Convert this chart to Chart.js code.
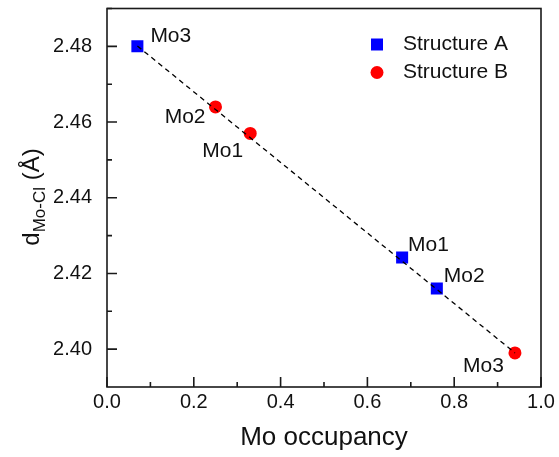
<!DOCTYPE html>
<html>
<head>
<meta charset="utf-8">
<script src="https://cdn.jsdelivr.net/npm/chart.js@4"></script>
<style>
  html, body { margin: 0; padding: 0; background: #fff; }
  #wrap { width: 559px; height: 457px; }
</style>
</head>
<body>
<div id="wrap"><canvas id="myChart" width="559" height="457"></canvas></div>
<script>
// data
const occA = [0.07, 0.68, 0.76];
const distA = [2.480, 2.4242, 2.416];
const namesA = ['Mo3', 'Mo1', 'Mo2'];

const occB = [0.25, 0.33, 0.94];
const distB = [2.464, 2.457, 2.399];
const namesB = ['Mo2', 'Mo1', 'Mo3'];

const fitX = [0.07, 0.94];
const fitY = [2.4801, 2.3990];

const xTicks = [0.0, 0.2, 0.4, 0.6, 0.8, 1.0];
const yTicks = [2.40, 2.42, 2.44, 2.46, 2.48];

const FONT = 'Arial, "Liberation Sans", sans-serif';

// where each point name sits relative to its marker: [align, dx, dy]
const labelPlace = {
    0: [['left', 13, -10], ['left', 6, -12], ['left', 7, -12]],
    1: [['right', -10, 10], ['right', -7, 18], ['right', -11, 13]]
};

const decorations = {
    id: 'decorations',
    afterDraw(chart) {
        const ctx = chart.ctx;
        const a = chart.chartArea;
        const xs = chart.scales.x, ys = chart.scales.y;
        ctx.save();

        // frame
        ctx.strokeStyle = '#1a1a1a';
        ctx.lineWidth = 1.6;
        ctx.strokeRect(a.left, a.top, a.right - a.left, a.bottom - a.top);

        // inward ticks, major and minor
        ctx.beginPath();
        for (let i = 0; i < xTicks.length; i++) {
            let px = xs.getPixelForValue(xTicks[i]);
            ctx.moveTo(px, a.bottom); ctx.lineTo(px, a.bottom - 10);
            if (i < xTicks.length - 1) {
                let mx = xs.getPixelForValue((xTicks[i] + xTicks[i + 1]) / 2);
                ctx.moveTo(mx, a.bottom); ctx.lineTo(mx, a.bottom - 5);
            }
        }
        let ySteps = [2.39].concat(yTicks);
        for (let i = 0; i < yTicks.length; i++) {
            let py = ys.getPixelForValue(yTicks[i]);
            ctx.moveTo(a.left, py); ctx.lineTo(a.left + 10, py);
        }
        for (let i = 0; i < ySteps.length; i++) {
            let my = ys.getPixelForValue(ySteps[i] + 0.01);
            if (my > a.top) { ctx.moveTo(a.left, my); ctx.lineTo(a.left + 5, my); }
        }
        ctx.stroke();

        // point names
        ctx.fillStyle = '#111';
        ctx.font = '21px ' + FONT;
        ctx.textBaseline = 'middle';
        [namesA, namesB].forEach((names, d) => {
            const meta = chart.getDatasetMeta(d);
            names.forEach((n, i) => {
                const el = meta.data[i];
                const p = labelPlace[d][i];
                ctx.textAlign = p[0];
                ctx.fillText(n, el.x + p[1], el.y + p[2]);
            });
        });

        // legend
        ctx.textAlign = 'left';
        [0, 1].forEach((d) => {
            const ds = chart.data.datasets[d];
            const cy = a.top + 36 + d * 28;
            ctx.fillStyle = ds.backgroundColor;
            ctx.beginPath();
            if (ds.pointStyle === 'rect') ctx.rect(377 - 6, cy - 6, 12, 12);
            else ctx.arc(377, cy, 6.5, 0, Math.PI * 2);
            ctx.fill();
            ctx.fillStyle = '#111';
            ctx.fillText(ds.label, 403, cy);
        });

        // y title with subscript
        ctx.translate(31, 197);
        ctx.rotate(-Math.PI / 2);
        ctx.fillStyle = '#111';
        ctx.textBaseline = 'alphabetic';
        const big = '24px ' + FONT, small = '17px ' + FONT;
        ctx.font = big; const w1 = ctx.measureText('d').width;
        ctx.font = small; const w2 = ctx.measureText('Mo-Cl').width;
        ctx.font = big; const w3 = ctx.measureText(' (Å)').width;
        let x0 = -(w1 + w2 + w3) / 2;
        ctx.font = big; ctx.fillText('d', x0, 8);
        ctx.font = small; ctx.fillText('Mo-Cl', x0 + w1, 14);
        ctx.font = big; ctx.fillText(' (Å)', x0 + w1 + w2, 8);

        ctx.restore();
    }
};

const ctx = document.getElementById('myChart').getContext('2d');
const myChart = new Chart(ctx, {
    type: 'scatter',
    data: {
        datasets: [{
            label: 'Structure A',
            data: occA.map((x, i) => ({ x: x, y: distA[i] })),
            pointStyle: 'rect',
            pointRadius: 8.5,
            backgroundColor: '#0000ff',
            borderColor: '#0000ff',
            borderWidth: 0,
            order: 1
        }, {
            label: 'Structure B',
            data: occB.map((x, i) => ({ x: x, y: distB[i] })),
            pointStyle: 'circle',
            pointRadius: 6.5,
            backgroundColor: '#ff0000',
            borderColor: '#ff0000',
            borderWidth: 0,
            order: 1
        }, {
            label: 'fit',
            data: fitX.map((x, i) => ({ x: x, y: fitY[i] })),
            showLine: true,
            pointRadius: 0,
            borderColor: '#000',
            borderWidth: 1.3,
            borderDash: [5, 4],
            order: 0
        }]
    },
    options: {
        responsive: false,
        animation: false,
        layout: { padding: { top: 8, right: 18, left: 0, bottom: 0 } },
        plugins: {
            legend: { display: false },
            tooltip: { enabled: false }
        },
        scales: {
            x: {
                type: 'linear',
                min: 0, max: 1,
                afterBuildTicks: (s) => { s.ticks = xTicks.map(v => ({ value: v })); },
                afterFit: (s) => { s.height = 70; s.paddingLeft = 0; s.paddingRight = 0; },
                grid: { display: false, drawTicks: false },
                border: { display: false },
                ticks: {
                    padding: 3,
                    color: '#111',
                    font: { family: FONT, size: 20 },
                    callback: (v) => v.toFixed(1)
                },
                title: {
                    display: true,
                    text: 'Mo occupancy',
                    color: '#111',
                    font: { family: FONT, size: 26 },
                    padding: { top: 0 }
                }
            },
            y: {
                min: 2.39, max: 2.49,
                afterBuildTicks: (s) => { s.ticks = yTicks.map(v => ({ value: v })); },
                afterFit: (s) => { s.width = 107; s.paddingTop = 0; s.paddingBottom = 0; },
                grid: { display: false, drawTicks: false },
                border: { display: false },
                ticks: {
                    padding: 15,
                    color: '#111',
                    font: { family: FONT, size: 20 },
                    callback: (v) => v.toFixed(2)
                }
            }
        }
    },
    plugins: [decorations]
});
</script>
</body>
</html>
